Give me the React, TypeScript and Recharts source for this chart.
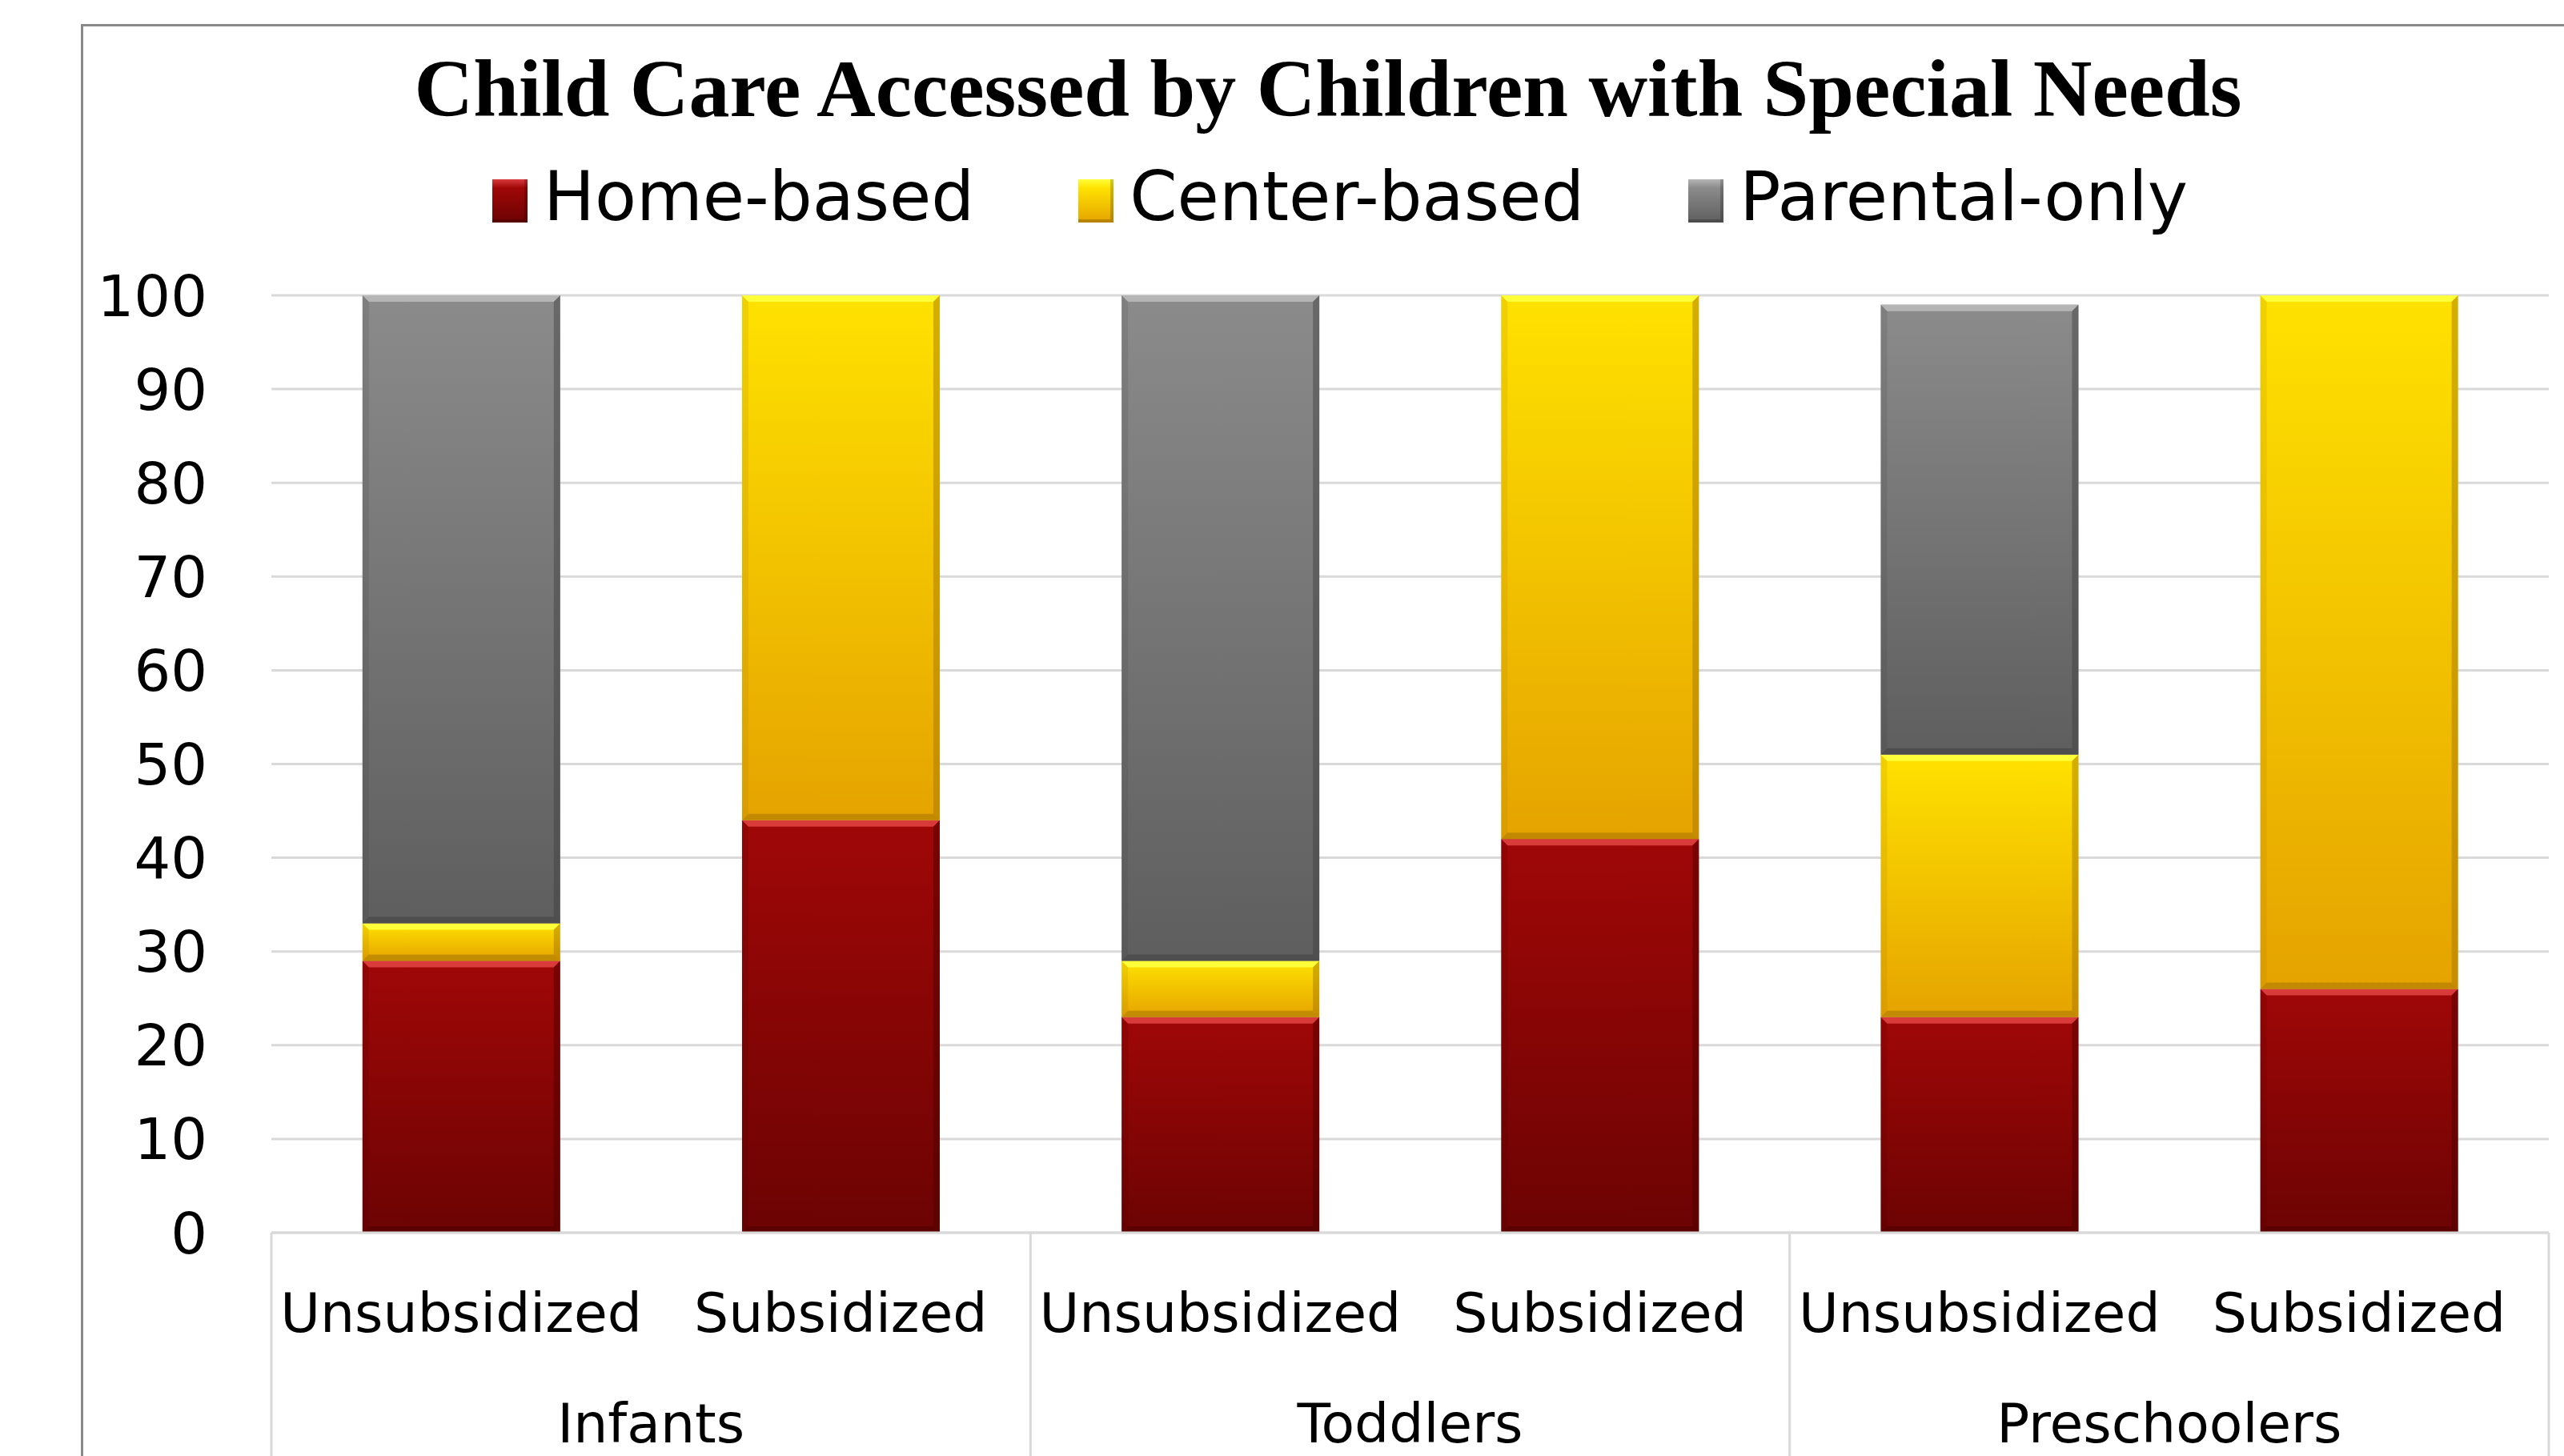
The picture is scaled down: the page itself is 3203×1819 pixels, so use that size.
import React from "react";
import { BarChart, Bar, XAxis, YAxis, CartesianGrid, Legend } from "recharts";

// care type shares (%) per column
const subGroups = ["Unsubsidized", "Subsidized", "Unsubsidized", "Subsidized", "Unsubsidized", "Subsidized"];
const ageGroups = ["Infants", "Infants", "Toddlers", "Toddlers", "Preschoolers", "Preschoolers"];
const homeBased = [29, 44, 23, 42, 23, 26];
const centerBased = [4, 56, 6, 58, 28, 74];
const parentalOnly = [67, 0, 71, 0, 48, 0];
const yTicks = [0, 10, 20, 30, 40, 50, 60, 70, 80, 90, 100];

const seriesNames = ["Home-based", "Center-based", "Parental-only"];

const data = subGroups.map((s, i) => ({
  id: i,
  home: homeBased[i],
  center: centerBased[i],
  parental: parentalOnly[i],
}));

const W = 3203;
const H = 1819;
const MARGIN = { top: 369, right: 19, left: 0, bottom: 0 };
const Y_AXIS_W = 339;
const BAND = (W - MARGIN.left - MARGIN.right - Y_AXIS_W) / subGroups.length;
const FONT = "'DejaVu Sans', sans-serif";

const STYLES = [
  { id: "gHome", top: "#a00707", bottom: "#6c0303", hi: "#d93b3b", edge: "#4a0000" },
  { id: "gCenter", top: "#ffe200", bottom: "#e5a300", hi: "#ffff3a", edge: "#a07000" },
  { id: "gParental", top: "#8b8b8b", bottom: "#5e5e5e", hi: "#b5b5b5", edge: "#3e3e3e" },
];

const makeShape = (k: number) => (props: any) => {
  const { x, y, width, height } = props;
  if (!height || height <= 0) return <g />;
  const s = STYLES[k];
  const b = Math.min(8, height / 2);
  return (
    <g>
      <rect x={x} y={y} width={width} height={height} fill={`url(#${s.id})`} />
      <polygon
        points={`${x},${y} ${x + width},${y} ${x + width - b},${y + b} ${x + b},${y + b}`}
        fill={s.hi}
      />
      <polygon
        points={`${x + width},${y} ${x + width},${y + height} ${x + width - b},${y + height - b} ${x + width - b},${y + b}`}
        fill={s.edge}
        opacity={0.45}
      />
      <polygon
        points={`${x},${y} ${x + b},${y + b} ${x + b},${y + height - b} ${x},${y + height}`}
        fill={s.edge}
        opacity={0.15}
      />
      <polygon
        points={`${x},${y + height} ${x + b},${y + height - b} ${x + width - b},${y + height - b} ${x + width},${y + height}`}
        fill={s.edge}
        opacity={0.5}
      />
    </g>
  );
};

const SubTick = (props: any) => {
  const { x, y, payload } = props;
  return (
    <text x={x} y={y + 100} textAnchor="middle" dominantBaseline="central" fontFamily={FONT} fontSize={68} fill="#000">
      {subGroups[payload.value]}
    </text>
  );
};

const GroupTick = (props: any) => {
  const { x, y, payload } = props;
  const i = payload.value;
  const isStart = i === 0 || ageGroups[i] !== ageGroups[i - 1];
  const isLast = i === ageGroups.length - 1;
  return (
    <g>
      {isStart && (
        <>
          <line x1={x - BAND / 2} x2={x - BAND / 2} y1={y - 140} y2={H} stroke="#d9d9d9" strokeWidth={3} />
          <text x={x + BAND / 2} y={y + 98} textAnchor="middle" dominantBaseline="central" fontFamily={FONT} fontSize={68} fill="#000">
            {ageGroups[i]}
          </text>
        </>
      )}
      {isLast && <line x1={x + BAND / 2} x2={x + BAND / 2} y1={y - 140} y2={H} stroke="#d9d9d9" strokeWidth={3} />}
    </g>
  );
};

const LegendContent = () => (
  <div style={{ display: "flex", alignItems: "flex-start", fontFamily: FONT }}>
    {seriesNames.map((n, i) => (
      <div key={n} style={{ display: "flex", alignItems: "flex-start", marginRight: i < 2 ? 130 : 0 }}>
        <div
          style={{
            width: 44,
            height: 54,
            marginTop: 6,
            marginRight: 20,
            background: `linear-gradient(${STYLES[i].hi}, ${STYLES[i].top} 20%, ${STYLES[i].bottom})`,
            boxShadow: `inset -4px -4px 0 rgba(0,0,0,0.2)`,
          }}
        />
        <span style={{ fontSize: 85, lineHeight: "56px", color: "#000", whiteSpace: "nowrap" }}>{n}</span>
      </div>
    ))}
  </div>
);

export default function App() {
  return (
    <div style={{ position: "absolute", left: 0, top: 0, width: W, height: H, overflow: "hidden", background: "#fff" }}>
      <div
        style={{
          position: "absolute",
          left: 101,
          top: 30,
          width: W,
          height: H,
          borderLeft: "3px solid #8a8a8a",
          borderTop: "3px solid #8a8a8a",
        }}
      />
      <svg style={{ position: "absolute", left: 0, top: 0 }} width={W} height={200}>
        <text x={1659} y={145} textAnchor="middle" fontFamily="'Liberation Serif', serif" fontWeight="bold" fontSize={102} fill="#000">
          Child Care Accessed by Children with Special Needs
        </text>
      </svg>
      <div style={{ position: "absolute", left: 0, top: 0 }}>
        <BarChart width={W} height={H} data={data} margin={MARGIN} barCategoryGap="24%">
          <defs>
            {STYLES.map((s) => (
              <linearGradient key={s.id} id={s.id} x1="0" y1="0" x2="0" y2="1">
                <stop offset="0%" stopColor={s.top} />
                <stop offset="100%" stopColor={s.bottom} />
              </linearGradient>
            ))}
          </defs>
          <CartesianGrid vertical={false} stroke="#d9d9d9" strokeWidth={3} />
          <XAxis
            xAxisId={0}
            dataKey="id"
            height={140}
            interval={0}
            tickLine={false}
            tickSize={0}
            tickMargin={0}
            axisLine={{ stroke: "#d9d9d9", strokeWidth: 3 }}
            tick={<SubTick />}
          />
          <XAxis
            xAxisId={1}
            dataKey="id"
            height={139}
            interval={0}
            tickLine={false}
            tickSize={0}
            tickMargin={0}
            axisLine={false}
            tick={<GroupTick />}
          />
          <YAxis
            width={Y_AXIS_W}
            domain={[0, 100]}
            ticks={yTicks}
            interval={0}
            axisLine={false}
            tickLine={false}
            tickSize={0}
            tickMargin={80}
            tick={{ fontFamily: FONT, fontSize: 72, fill: "#000" }}
          />
          <Legend
            layout="horizontal"
            verticalAlign="middle"
            align="center"
            content={<LegendContent />}
            wrapperStyle={{ top: 218, left: 615, width: "auto" }}
          />
          <Bar dataKey="home" name={seriesNames[0]} stackId="a" isAnimationActive={false} shape={makeShape(0)} />
          <Bar dataKey="center" name={seriesNames[1]} stackId="a" isAnimationActive={false} shape={makeShape(1)} />
          <Bar dataKey="parental" name={seriesNames[2]} stackId="a" isAnimationActive={false} shape={makeShape(2)} />
        </BarChart>
      </div>
    </div>
  );
}
